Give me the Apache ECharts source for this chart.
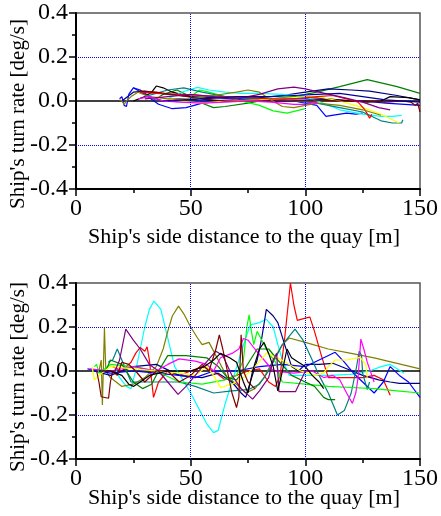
<!DOCTYPE html>
<html><head><meta charset="utf-8">
<script src="https://cdn.jsdelivr.net/npm/echarts@6/dist/echarts.min.js"></script>
<style>html,body{margin:0;padding:0;background:#fff}#c{width:441px;height:516px}</style>
</head><body><div id="c"></div><script>
// ---------- tick labels / axis ranges ----------
const xTicks = [0, 50, 100, 150];
const yTicks = [-0.4, -0.2, 0.0, 0.2, 0.4];
const gridX = [50, 100];
const gridY = [-0.2, 0.2];
const xTitle = "Ship's side distance to the quay [m]";
const yTitle = "Ship's turn rate [deg/s]";

// ---------- top panel series [distance m, turn rate deg/s] ----------
const topDarkGreen = [[33,0.0],[38,0.03],[44,0.05],[50,0.02],[55,-0.01],[60,-0.03],[65,-0.025],[75,-0.01],[85,0.01],[95,0.02],[105,0.04],[115,0.065],[127,0.097],[140,0.065],[150,0.035]];
const topNavy = [[20,0.0],[25,0.04],[30,0.045],[40,0.03],[50,0.02],[60,0.015],[70,0.01],[80,0.015],[90,0.025],[100,0.04],[110,0.055],[120,0.05],[128,0.045],[140,0.025],[150,0.005]];
const topBlue = [[19,0.01],[20,0.02],[21,-0.02],[22,-0.025],[23,0.03],[25,0.06],[28,0.05],[32,0.02],[38,0.0],[45,0.01],[55,0.0],[70,0.005],[85,0.01],[100,0.01],[112,0.005],[125,0.0],[135,-0.01],[150,-0.02]];
const topBlue2 = [[25,0.06],[30,0.03],[36,-0.015],[42,-0.035],[48,-0.03],[55,-0.01],[65,0.0],[80,0.0],[95,0.0],[105,-0.02],[109,-0.07],[113,-0.063],[118,-0.055],[122,-0.06],[125,-0.055]];
const topBlack = [[25,0.0],[30,0.02],[33,0.04],[35,0.068],[38,0.06],[42,0.04],[50,0.02],[60,0.0],[70,0.0],[80,0.005],[90,0.01],[100,0.02],[110,0.01],[120,0.0],[127,-0.005],[133,0.0],[137,0.02],[145,0.015],[150,0.005]];
const topGreen = [[50,0.02],[54,0.05],[58,0.04],[65,0.02],[72,0.0],[80,-0.02],[86,-0.045],[92,-0.055],[96,-0.045],[100,-0.035]];
const topCyan = [[40,0.01],[46,0.04],[53,0.062],[58,0.05],[65,0.04],[72,0.035],[80,0.035],[90,0.03],[100,0.02],[108,-0.01],[115,-0.04],[125,-0.06],[133,-0.07],[138,-0.07],[142,-0.065]];
const topTeal = [[30,0.02],[40,0.05],[47,0.06],[55,0.04],[65,0.02],[75,0.01],[85,0.01],[95,0.0],[105,-0.01],[115,-0.03],[125,-0.05],[133,-0.09],[138,-0.1],[142,-0.1],[142.5,-0.085]];
const topYellow = [[35,0.02],[45,0.0],[55,-0.01],[65,0.0],[80,0.005],[95,0.015],[105,0.02],[115,0.0],[125,-0.03],[133,-0.06],[138,-0.085],[141,-0.1]];
const topRed = [[28,0.04],[35,0.035],[45,0.03],[55,0.025],[65,0.02],[75,0.015],[85,0.01],[95,0.01],[105,0.02],[112,0.025],[118,0.01],[123,-0.005],[126,-0.04],[128,-0.078],[129,-0.06]];
const topMaroon = [[27,0.045],[35,0.04],[45,0.025],[55,0.01],[65,0.0],[75,0.0],[85,0.0],[95,0.0],[105,0.005],[115,0.0],[125,0.0],[135,-0.005],[142,0.0],[146,-0.005],[148,-0.02],[149,-0.01],[150,-0.05]];
const topOlive = [[19,0.005],[20,0.0],[21,-0.015],[22,0.0],[24,0.02],[27,0.04],[32,0.02],[40,0.01],[50,0.01],[60,0.025],[70,0.04],[75,0.05],[80,0.04],[85,0.005],[90,-0.025],[95,-0.03],[100,-0.02],[105,-0.01],[115,-0.02],[125,-0.04],[133,-0.065]];
const topPurple = [[30,0.01],[40,0.02],[50,0.03],[60,0.02],[70,0.01],[80,0.03],[88,0.055],[95,0.063],[100,0.055],[106,0.04],[115,0.02],[125,-0.005],[132,-0.03],[137,-0.04]];
const topMagenta = [[27,0.01],[32,0.02],[38,0.0],[45,-0.005],[55,-0.01],[65,-0.005],[75,0.0],[85,-0.005],[95,-0.015],[100,-0.015],[104,-0.005],[105.5,-0.01]];
const topDarkBlue = [[40,0.0],[55,0.01],[70,0.02],[85,0.02],[95,0.025],[105,0.03],[115,0.035],[125,0.02],[135,0.005],[150,-0.005]];

// ---------- bottom panel series ----------
const botCyan = [[17,0.01],[19,-0.03],[22,-0.07],[24,-0.08],[26,0.0],[28,0.1],[30,0.2],[32,0.28],[34,0.318],[37,0.28],[40,0.15],[43,0.02],[46,-0.03],[50,-0.1],[54,-0.18],[57,-0.24],[60,-0.28],[62,-0.27],[65,-0.15],[68,-0.05],[71,0.05],[74,0.15],[76,0.21],[80,0.22],[83,0.235],[86,0.2],[88,0.12],[90,0.05],[93,-0.02],[100,-0.02],[110,-0.02],[120,-0.015],[128,0.0],[133,0.02],[137,0.03],[140,0.01],[143,-0.01]];
const botOlive = [[10,0.0],[11,0.05],[11.5,-0.155],[12.4,0.195],[13,0.0],[15,-0.03],[20,-0.07],[25,-0.06],[30,-0.03],[35,0.02],[38,0.1],[40,0.18],[42,0.25],[44.7,0.295],[47,0.26],[50,0.2],[53,0.15],[55,0.12],[58,0.13],[62,0.05],[66,-0.03],[70,-0.06],[74,-0.1],[78,-0.08],[82,-0.03],[86,0.05],[90,0.12],[93,0.15],[100,0.13],[110,0.1],[120,0.08],[130,0.06],[140,0.035],[150,0.01]];
const botRed = [[16,0.02],[20,0.0],[24,0.04],[26,0.08],[28,0.107],[30,0.09],[31,0.11],[32,0.05],[33.8,-0.12],[36,-0.05],[40,0.0],[45,-0.02],[50,0.0],[55,0.02],[60,0.0],[65,-0.04],[70,-0.02],[75,0.0],[80,0.01],[84,-0.05],[87,-0.07],[89,-0.02],[91,0.15],[93.5,0.4],[95,0.3],[96.5,0.23],[100,0.24],[102,0.245],[104,0.18],[107,0.07],[110,-0.03],[115,-0.03],[120,-0.03],[125,-0.03],[130,-0.02],[134,-0.04],[137,-0.11]];
const botNavy = [[8,0.0],[15,-0.02],[25,0.02],[35,0.03],[45,-0.02],[55,-0.03],[62,-0.01],[68,-0.05],[72,-0.1],[74,-0.12],[76,-0.05],[79,0.05],[81,0.15],[83,0.28],[86,0.25],[88,0.22],[91,0.12],[94,0.02],[97,0.0],[100,0.03],[106,0.03],[112,0.035],[118,0.01],[125,-0.02],[132,-0.04],[137,-0.05],[141,-0.056],[150,-0.056]];
const botBlue = [[5,0.01],[15,-0.01],[25,0.0],[35,-0.01],[45,-0.02],[52,-0.03],[60,0.0],[70,0.0],[80,0.02],[90,0.03],[100,0.02],[106,0.05],[113,0.085],[117,0.04],[121,-0.01],[125,-0.05],[130,-0.1],[134,-0.05],[137,0.02],[141,-0.02],[145,-0.05],[150,-0.12]];
const botTeal = [[14,0.04],[16,0.05],[18,0.1],[20,0.05],[24,-0.05],[30,-0.05],[38,-0.05],[45,-0.05],[52,-0.07],[60,-0.1],[68,-0.09],[75,-0.085],[80,-0.06],[84,0.0],[90,0.12],[95.5,0.19],[99,0.14],[103,0.05],[106,-0.02],[110,-0.1],[114,-0.2],[117,-0.18],[120,-0.1],[122,0.0],[123.5,0.09],[124.5,0.07],[125,-0.01],[127,-0.085],[128,-0.05]];
const botGreen = [[8,0.02],[9,0.03],[10,-0.01],[15,0.03],[25,0.02],[35,0.0],[45,-0.05],[55,-0.06],[65,-0.04],[70,-0.02],[73,0.05],[74.5,0.2],[75.5,0.255],[76.5,0.18],[77.5,0.12],[79,0.18],[81,0.14],[84,0.08],[87,0.04],[89,-0.03],[90,-0.05],[100,-0.06],[110,-0.07],[120,-0.075],[130,-0.08],[140,-0.09],[150,-0.1]];
const botDarkGreen = [[13,0.0],[15,0.05],[20,0.03],[25,-0.05],[29,-0.08],[33,-0.06],[36,0.0],[40,0.07],[48,0.07],[57,0.06],[62,0.02],[66,-0.03],[70,-0.04],[73,0.0],[76,0.05],[79,0.1],[84,0.1],[88,0.05],[94,-0.02],[100,-0.05],[104,-0.07],[108,-0.12],[110,-0.13],[113,-0.13]];
const botMagenta = [[6,0.01],[15,0.0],[25,0.02],[35,0.0],[40,0.03],[45,0.055],[52,0.045],[57,0.03],[60,0.0],[63,0.06],[68,0.08],[71,0.1],[73,0.148],[75,0.14],[78,0.1],[82,0.05],[86,0.0],[95,-0.01],[103,0.0],[108,-0.03],[112,-0.02],[115,-0.04],[118,-0.1],[120.5,-0.147],[122,-0.1],[123,-0.03],[124.2,0.145],[125.5,0.1],[127,0.04],[129,-0.02],[130,-0.05]];
const botYellow = [[7,0.02],[8,-0.04],[10,-0.02],[15,0.02],[25,0.01],[35,0.0],[45,-0.01],[52,-0.02],[57,0.02],[60,-0.02],[63,-0.075],[68,-0.06],[73,-0.03],[78,0.02],[83,0.08],[88,0.06],[93,0.03],[98,0.0],[104,-0.02],[108,-0.01],[110,0.02],[113,0.05],[118,0.05],[124,0.062],[126.4,0.027],[127,-0.03]];
const botPurple = [[12,0.0],[17,0.0],[19,0.05],[21.7,0.19],[25,0.14],[28,0.1],[32,0.03],[36,0.0],[40,-0.05],[44.5,-0.106],[48,-0.07],[52,-0.02],[56,0.03],[61,0.09],[64,0.07],[68,-0.02],[72,-0.08],[77,-0.128],[80,-0.09],[84,-0.03],[86,0.05],[87.5,0.08],[88.5,-0.094],[95.7,-0.094],[100,0.0]];
const botMaroon = [[9,0.0],[10,-0.05],[11,-0.117],[14.2,-0.124],[15,-0.05],[16,0.0],[18,-0.02],[20,0.04],[23,0.03],[26,0.0],[30,-0.05],[35,0.0],[40,0.0],[45,-0.05],[50,-0.02],[55,0.03],[58,0.0],[61,0.1],[62.5,0.164],[64,0.1],[66,0.0],[68,-0.1],[70,-0.166],[71,-0.12],[72,0.165],[73,0.0],[75,-0.05],[78,-0.08]];
const botBlack = [[10,0.0],[15,0.0],[20,-0.02],[23,-0.06],[25,-0.07],[28,-0.05],[32,-0.02],[40,0.0],[50,0.0],[56,0.02],[60,0.05],[63,0.08],[67,0.06],[70,0.04],[73,-0.05],[75,-0.1],[77,0.0],[80,0.1],[82,0.13],[84,0.08],[86,0.02],[88,-0.09],[90,0.0],[92,0.1],[94,0.06],[97,0.04],[100,0.02],[103,-0.02],[106,-0.05],[108,-0.08]];

const zeroLine = [[0,0],[150,0]];

const topSeries = [
  [topDarkGreen,'#008000'],[topNavy,'#000080'],[topBlue,'#0000ff'],[topBlue2,'#0000ff'],
  [topBlack,'#000000'],[topGreen,'#00ff00'],[topCyan,'#00ffff'],[topTeal,'#008080'],
  [topYellow,'#ffff00'],[topRed,'#ff0000'],[topMaroon,'#800000'],[topOlive,'#808000'],
  [topPurple,'#800080'],[topMagenta,'#ff00ff'],[topDarkBlue,'#0000a0']
];
const botSeries = [
  [botCyan,'#00ffff'],[botOlive,'#808000'],[botRed,'#ff0000'],[botNavy,'#000080'],
  [botBlue,'#0000ff'],[botTeal,'#008080'],[botGreen,'#00ff00'],[botDarkGreen,'#008000'],
  [botMagenta,'#ff00ff'],[botYellow,'#ffff00'],[botPurple,'#800080'],[botMaroon,'#800000'],
  [botBlack,'#000000']
];

const FONT = 'Liberation Serif';
const chart = echarts.init(document.getElementById('c'), null, {renderer:'canvas'});

const labelRich = {t:{fontFamily:FONT, fontSize:24, color:'#000', fontWeight:'normal'}};
function xAx(gi){
  return {gridIndex:gi, type:'value', min:xTicks[0], max:xTicks[xTicks.length-1], interval:xTicks[1]-xTicks[0],
    axisLine:{show:true, onZero:false, lineStyle:{color:'#000', width:2}},
    axisTick:{show:true, length:7, lineStyle:{color:'#000', width:1.5}},
    minorTick:{show:true, splitNumber:2, length:4, lineStyle:{color:'#000', width:1.5}},
    axisLabel:{fontFamily:FONT, fontSize:24, color:'#000', margin:8, formatter:v => '{t|' + v + '}', rich:labelRich},
    splitLine:{show:false}};
}
function yAx(gi){
  return {gridIndex:gi, type:'value', min:yTicks[0], max:yTicks[yTicks.length-1], interval:yTicks[1]-yTicks[0],
    axisLine:{show:true, onZero:false, lineStyle:{color:'#000', width:2}},
    axisTick:{show:true, length:7, lineStyle:{color:'#000', width:1.5}},
    minorTick:{show:true, splitNumber:2, length:4, lineStyle:{color:'#000', width:1.5}},
    axisLabel:{fontFamily:FONT, fontSize:24, color:'#000', margin:8, rich:labelRich,
      formatter:v => '{t|' + (Math.abs(v)<1e-9 ? '0.0' : v.toFixed(1)) + '}'},
    splitLine:{show:false}};
}
function mk(pair, gi){
  return {type:'line', xAxisIndex:gi, yAxisIndex:gi, data:pair[0], symbol:'none', showSymbol:false,
    lineStyle:{color:pair[1], width:1.2}, itemStyle:{color:pair[1]}, silent:true, z:3};
}
const guide = [];
gridX.forEach(v => guide.push({xAxis:v, lineStyle:{color:'#0000ff', type:'dotted', width:1}}));
gridY.forEach(v => guide.push({yAxis:v, lineStyle:{color:'#0000ff', type:'dotted', width:1}}));
const series = [];
[0,1].forEach(gi => series.push({type:'line', xAxisIndex:gi, yAxisIndex:gi, data:zeroLine, symbol:'none',
  lineStyle:{color:'#000', width:1.5}, silent:true, z:2,
  markLine:{silent:true, symbol:['none','none'], label:{show:false}, animation:false, data:guide}}));
topSeries.forEach(p => series.push(mk(p,0)));
botSeries.forEach(p => series.push(mk(p,1)));

chart.setOption({
  animation:false,
  backgroundColor:'#fff',
  grid:[
    {left:76, top:13, width:351, height:176, show:true, borderColor:'#555', borderWidth:1.5, backgroundColor:'transparent'},
    {left:76, top:283, width:351, height:176, show:true, borderColor:'#555', borderWidth:1.5, backgroundColor:'transparent'}
  ],
  xAxis:[xAx(0), xAx(1)],
  yAxis:[yAx(0), yAx(1)],
  series:series,
  graphic:[
    {type:'text', style:{text:xTitle, fontFamily:FONT, fontSize:22, fill:'#000', align:'center', verticalAlign:'middle'}, x:244, y:237},
    {type:'text', style:{text:xTitle, fontFamily:FONT, fontSize:22, fill:'#000', align:'center', verticalAlign:'middle'}, x:244, y:498},
    {type:'text', style:{text:yTitle, fontFamily:FONT, fontSize:21, fill:'#000', align:'center', verticalAlign:'middle'}, x:18, y:114, rotation:Math.PI/2},
    {type:'text', style:{text:yTitle, fontFamily:FONT, fontSize:21, fill:'#000', align:'center', verticalAlign:'middle'}, x:18, y:377, rotation:Math.PI/2}
  ]
});
</script></body></html>
